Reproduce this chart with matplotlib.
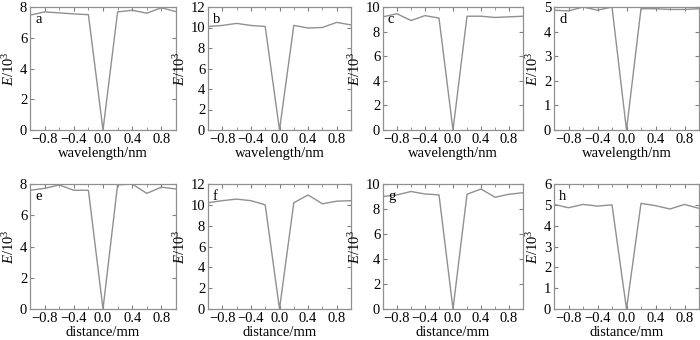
import numpy as np
import matplotlib.pyplot as plt
from matplotlib.ticker import MultipleLocator

plt.rcParams['font.family'] = 'Liberation Serif'
plt.rcParams['mathtext.fontset'] = 'custom'
plt.rcParams['mathtext.rm'] = 'Liberation Serif'
plt.rcParams['mathtext.it'] = 'Liberation Serif:italic'

x = [-1.0, -0.8, -0.6, -0.4, -0.2, 0.0, 0.2, 0.4, 0.6, 0.8, 1.0]

# E/10^3, fila superior (longitud de onda) y fila inferior (distancia)
E_a = [7.47, 7.68, 7.62, 7.55, 7.5, 0.0, 7.68, 7.79, 7.6, 7.95, 7.7]
E_b = [10.1, 10.2, 10.4, 10.2, 10.1, 0.0, 10.2, 9.95, 10.0, 10.5, 10.25]
E_c = [9.2, 9.45, 8.9, 9.3, 9.1, 0.0, 9.25, 9.25, 9.15, 9.2, 9.25]
E_d = [4.87, 4.84, 5.0, 4.87, 5.0, 0.0, 4.93, 4.93, 4.9, 4.9, 4.93]
E_e = [7.6, 7.72, 7.94, 7.6, 7.6, 0.0, 7.95, 8.0, 7.4, 7.8, 7.68]
E_f = [10.2, 10.4, 10.55, 10.4, 10.0, 0.0, 10.2, 10.95, 10.1, 10.35, 10.4]
E_g = [9.0, 9.13, 9.4, 9.2, 9.13, 0.0, 9.18, 9.6, 8.94, 9.18, 9.3]
E_h = [5.02, 4.86, 5.02, 4.94, 5.0, 0.0, 5.07, 4.96, 4.8, 5.02, 4.83]

paneles = [
    ('a', E_a, 8, 2, 'wavelength/nm'),
    ('b', E_b, 12, 2, 'wavelength/nm'),
    ('c', E_c, 10, 2, 'wavelength/nm'),
    ('d', E_d, 5, 1, 'wavelength/nm'),
    ('e', E_e, 8, 2, 'distance/mm'),
    ('f', E_f, 12, 2, 'distance/mm'),
    ('g', E_g, 10, 2, 'distance/mm'),
    ('h', E_h, 6, 1, 'distance/mm'),
]

# posiciones de los ejes en pixeles (izq, der)
izq = [30, 208, 383, 554]
der = [176, 351, 523, 699]
W, H = 700, 340
filas = [(7, 130), (184, 309)]

fig = plt.figure(figsize=(7, 3.4), dpi=100)

for k, (letra, E, ymax, paso, xlab) in enumerate(paneles):
    fila, col = divmod(k, 4)
    top, bot = filas[fila]
    ax = fig.add_axes([izq[col] / W, 1 - bot / H,
                       (der[col] - izq[col]) / W, (bot - top) / H])
    ax.plot(x, E, color='#909090', lw=1.0)
    ax.set_xlim(-1, 1)
    ax.set_ylim(0, ymax)
    ax.xaxis.set_minor_locator(MultipleLocator(0.2))
    ax.set_xticks([-0.8, -0.4, 0.0, 0.4, 0.8])
    ax.set_xticklabels(['\u22120.8', '\u22120.4', '0.0', '0.4', '0.8'])
    ax.yaxis.set_major_locator(MultipleLocator(paso))
    ax.tick_params(direction='in', top=True, right=True, labelsize=10.5,
                   length=3, color='#808080', pad=2)
    ax.tick_params(which='minor', direction='in', top=True, length=2,
                   color='#808080')
    for s in ax.spines.values():
        s.set_color('#909090')
        s.set_linewidth(0.9)
    ax.set_xlabel(xlab, fontsize=10.5, labelpad=1)
    ax.set_ylabel(r'$\mathit{E}$/10$^3$', fontsize=10.5, labelpad=2)
    ax.text(0.035, 0.95, letra, transform=ax.transAxes, fontsize=10.5,
            va='top', ha='left')

fig.savefig('out.png', dpi=100)
